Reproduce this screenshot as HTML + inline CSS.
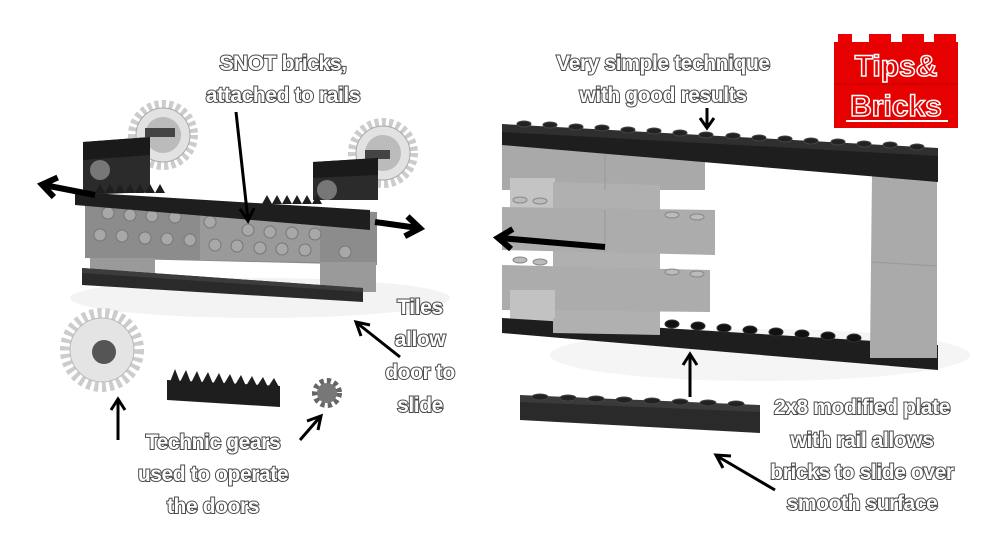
<!DOCTYPE html>
<html><head><meta charset="utf-8">
<style>
html,body{margin:0;padding:0;background:#fff;}
svg{display:block;}
.l{font-family:"Liberation Sans",sans-serif;font-size:21px;font-weight:bold;fill:#fff;stroke:#4a4a4a;stroke-width:2px;paint-order:stroke;text-anchor:middle;letter-spacing:-0.4px}
.a{stroke:#000;stroke-width:3;fill:none}
</style></head><body>
<svg width="1000" height="543" viewBox="0 0 1000 543" xmlns="http://www.w3.org/2000/svg">
<defs>
<marker id="H" markerWidth="30" markerHeight="30" refX="14" refY="12" orient="auto" markerUnits="userSpaceOnUse" viewBox="0 0 30 24"><path d="M2,2 L16,12 L2,22" fill="none" stroke="#000" stroke-width="6"/></marker>
</defs>
<rect width="1000" height="543" fill="#fff"/>
<ellipse cx="260" cy="298" rx="190" ry="20" fill="#f3f3f3"/>
<ellipse cx="760" cy="355" rx="210" ry="26" fill="#f5f5f5"/>

<!-- logo -->
<rect x="830" y="12" width="135" height="120" fill="#fff"/>
<rect x="838" y="34" width="14" height="9" fill="#e00"/><rect x="869" y="34" width="22" height="9" fill="#e00"/><rect x="902" y="34" width="22" height="9" fill="#e00"/><rect x="934" y="34" width="22" height="9" fill="#e00"/>
<rect x="834" y="42" width="124" height="86" fill="#e60000"/>
<line x1="834" y1="84" x2="958" y2="84" stroke="#b00" stroke-width="1"/>
<text x="896" y="76" style="font-family:'Liberation Sans',sans-serif;font-size:30px;font-weight:bold;fill:#e60000;stroke:#fff;stroke-width:1.5;text-anchor:middle">Tips&amp;</text>
<text x="896" y="116" style="font-family:'Liberation Sans',sans-serif;font-size:30px;font-weight:bold;fill:#e60000;stroke:#fff;stroke-width:1.5;text-anchor:middle">Bricks</text>
<line x1="846" y1="121" x2="948" y2="121" stroke="#fff" stroke-width="2"/>

<!-- LEFT ASSEMBLY -->
<circle cx="163" cy="135" r="30" fill="none" stroke="#ccc" stroke-width="10" stroke-dasharray="4 3"/>
<circle cx="163" cy="135" r="27" fill="#e2e2e2" stroke="#aaa"/>
<circle cx="163" cy="135" r="18" fill="#bbb"/>
<circle cx="383" cy="153" r="30" fill="none" stroke="#ccc" stroke-width="10" stroke-dasharray="4 3"/>
<circle cx="383" cy="153" r="27" fill="#e2e2e2" stroke="#aaa"/>
<circle cx="383" cy="153" r="18" fill="#bbb"/>
<rect x="145" y="128" width="30" height="9" fill="#444"/>
<rect x="365" y="150" width="25" height="9" fill="#444"/>
<polygon points="83,142 150,137 150,192 83,195" fill="#2b2b2b"/>
<polygon points="83,142 150,137 150,155 83,160" fill="#1a1a1a"/>
<polygon points="313,162 378,158 378,200 313,200" fill="#2b2b2b"/>
<polygon points="313,162 378,158 378,175 313,178" fill="#1a1a1a"/>
<polygon points="85,203 377,212 377,265 85,258" fill="#8c8c8c"/>
<polygon points="200,207 320,210 320,262 200,260" fill="#9a9a9a"/>
<g fill="#a8a8a8" stroke="#777" stroke-width="1">
<circle cx="108" cy="213" r="6"/><circle cx="130" cy="215" r="6"/><circle cx="152" cy="216" r="6"/><circle cx="175" cy="217" r="6"/>
<circle cx="100" cy="235" r="6"/><circle cx="122" cy="236" r="6"/><circle cx="145" cy="238" r="6"/><circle cx="167" cy="239" r="6"/><circle cx="190" cy="240" r="6"/>
<circle cx="210" cy="222" r="6"/><circle cx="248" cy="230" r="6"/><circle cx="270" cy="232" r="6"/><circle cx="292" cy="233" r="6"/><circle cx="315" cy="234" r="6"/>
<circle cx="215" cy="245" r="6"/><circle cx="237" cy="246" r="6"/><circle cx="260" cy="248" r="6"/><circle cx="282" cy="249" r="6"/><circle cx="305" cy="250" r="6"/><circle cx="345" cy="252" r="6"/>
</g>
<rect x="90" y="258" width="65" height="20" fill="#9a9a9a"/>
<rect x="320" y="262" width="56" height="30" fill="#9a9a9a"/>
<polygon points="75,192 370,210 370,230 75,205" fill="#1e1e1e"/>
<path d="M95,193 l5,-9 l5,9 l5,-9 l5,9 l5,-9 l5,9 l5,-9 l5,9 l5,-9 l5,9 l5,-9 l5,9 l5,-9 l5,9 Z" fill="#1e1e1e"/>
<path d="M262,204 l5,-9 l5,9 l5,-9 l5,9 l5,-9 l5,9 l5,-9 l5,9 l5,-9 l5,9 l5,-9 l5,9 Z" fill="#1e1e1e"/>
<circle cx="100" cy="170" r="10" fill="#777"/><circle cx="327" cy="190" r="10" fill="#777"/>
<polygon points="82,268 363,288 363,302 82,285" fill="#2a2a2a"/>
<polygon points="82,268 363,288 363,292 82,273" fill="#3c3c3c"/>
<line x1="95" y1="195" x2="44" y2="185" stroke="#000" stroke-width="6" marker-end="url(#H)"/>
<line x1="375" y1="222" x2="418" y2="228" stroke="#000" stroke-width="6" marker-end="url(#H)"/>

<!-- bottom left parts -->
<circle cx="102" cy="350" r="36" fill="none" stroke="#ccc" stroke-width="12" stroke-dasharray="4 3.5"/>
<circle cx="102" cy="350" r="32" fill="#e4e4e4" stroke="#bbb"/>
<circle cx="104" cy="352" r="12" fill="#555"/>
<polygon points="167,380 280,386 280,407 167,400" fill="#1e1e1e"/>
<path d="M170,382 L175,369 L180,382 L186,370 L191,383 L197,371 L202,383 L208,372 L213,384 L219,373 L224,384 L230,374 L235,385 L241,375 L246,386 L252,376 L257,386 L263,377 L268,387 L274,378 L279,387 Z" fill="#1e1e1e"/>
<circle cx="327" cy="393" r="12" fill="none" stroke="#666" stroke-width="6" stroke-dasharray="4 3"/>
<circle cx="327" cy="393" r="10" fill="#777"/>

<!-- RIGHT FRAME -->
<polygon points="502,145 705,148 705,190 502,190" fill="#a9a9a9"/>
<rect x="510" y="178" width="45" height="30" fill="#c4c4c4"/>
<polygon points="553,182 660,185 660,335 553,335" fill="#b0b0b0"/>
<polygon points="502,207 715,210 715,255 502,250" fill="#acacac"/>
<polygon points="502,265 710,270 710,312 502,310" fill="#acacac"/>
<rect x="510" y="290" width="45" height="35" fill="#c2c2c2"/>
<g fill="#bbb" stroke="#888"><ellipse cx="520" cy="200" rx="7" ry="3"/><ellipse cx="540" cy="201" rx="7" ry="3"/>
<ellipse cx="672" cy="215" rx="7" ry="3"/><ellipse cx="697" cy="217" rx="7" ry="3"/>
<ellipse cx="520" cy="260" rx="7" ry="3"/><ellipse cx="540" cy="262" rx="7" ry="3"/>
<ellipse cx="672" cy="272" rx="7" ry="3"/><ellipse cx="697" cy="274" rx="7" ry="3"/></g>
<line x1="605" y1="148" x2="605" y2="190" stroke="#999"/><line x1="605" y1="210" x2="605" y2="252" stroke="#999"/>
<polygon points="872,175 937,180 937,358 870,355" fill="#aaa"/>
<line x1="872" y1="262" x2="937" y2="266" stroke="#999"/>
<polygon points="502,128 938,152 938,182 502,145" fill="#1e1e1e"/>
<polygon points="502,124 938,148 938,156 502,132" fill="#2f2f2f"/>
<g fill="#222" stroke="#444">
<ellipse cx="524" cy="124" rx="7" ry="3"/><ellipse cx="550" cy="125" rx="7" ry="3"/><ellipse cx="576" cy="127" rx="7" ry="3"/><ellipse cx="602" cy="128" rx="7" ry="3"/><ellipse cx="628" cy="130" rx="7" ry="3"/><ellipse cx="654" cy="131" rx="7" ry="3"/><ellipse cx="680" cy="133" rx="7" ry="3"/><ellipse cx="706" cy="135" rx="7" ry="3"/><ellipse cx="733" cy="136" rx="7" ry="3"/><ellipse cx="759" cy="138" rx="7" ry="3"/><ellipse cx="785" cy="139" rx="7" ry="3"/><ellipse cx="811" cy="141" rx="7" ry="3"/><ellipse cx="838" cy="142" rx="7" ry="3"/><ellipse cx="864" cy="144" rx="7" ry="3"/><ellipse cx="890" cy="145" rx="7" ry="3"/><ellipse cx="917" cy="147" rx="7" ry="3"/>
</g>
<polygon points="502,318 938,345 938,370 502,333" fill="#1e1e1e"/>
<polygon points="553,318 660,320 660,335 553,333" fill="#b0b0b0"/>
<g fill="#111" stroke="#333">
<ellipse cx="672" cy="324" rx="7" ry="4"/><ellipse cx="698" cy="326" rx="7" ry="4"/><ellipse cx="724" cy="328" rx="7" ry="4"/><ellipse cx="750" cy="330" rx="7" ry="4"/><ellipse cx="776" cy="332" rx="7" ry="4"/><ellipse cx="802" cy="334" rx="7" ry="4"/><ellipse cx="828" cy="336" rx="7" ry="4"/><ellipse cx="854" cy="338" rx="7" ry="4"/>
</g>
<rect x="870" y="340" width="67" height="18" fill="#aaa"/>
<line x1="605" y1="247" x2="500" y2="238" stroke="#000" stroke-width="6" marker-end="url(#H)"/>

<polygon points="520,400 760,410 760,433 520,420" fill="#2a2a2a"/>
<polygon points="520,395 760,405 760,412 520,402" fill="#3a3a3a"/>
<g fill="#222" stroke="#444"><ellipse cx="540" cy="397" rx="8" ry="3"/><ellipse cx="568" cy="398" rx="8" ry="3"/><ellipse cx="596" cy="399" rx="8" ry="3"/><ellipse cx="624" cy="400" rx="8" ry="3"/><ellipse cx="652" cy="401" rx="8" ry="3"/><ellipse cx="680" cy="402" rx="8" ry="3"/><ellipse cx="708" cy="403" rx="8" ry="3"/><ellipse cx="736" cy="404" rx="8" ry="3"/></g>

<g class="a">
<line x1="236" y1="112" x2="248" y2="220"/><polyline points="240,209 248,221 254,208"/>
<line x1="707" y1="108" x2="707" y2="127"/><polyline points="700,118 707,128 714,118"/>
<line x1="400" y1="357" x2="357" y2="323"/><polyline points="361,336 356,322 370,325"/>
<line x1="118" y1="440" x2="118" y2="400"/><polyline points="111,410 118,399 125,410"/>
<line x1="300" y1="440" x2="320" y2="417"/><polyline points="318,430 321,416 307,421"/>
<line x1="690" y1="397" x2="690" y2="355"/><polyline points="683,365 690,354 697,365"/>
<line x1="775" y1="490" x2="717" y2="456"/><polyline points="723,468 716,455 731,456"/>
</g>

<text class="l" x="283" y="70">SNOT bricks,</text>
<text class="l" x="283" y="102">attached to rails</text>
<text class="l" x="663" y="70">Very simple technique</text>
<text class="l" x="663" y="102">with good results</text>
<text class="l" x="420" y="314">Tiles</text>
<text class="l" x="420" y="346">allow</text>
<text class="l" x="420" y="379">door to</text>
<text class="l" x="420" y="412">slide</text>
<text class="l" x="213" y="449">Technic gears</text>
<text class="l" x="213" y="481">used to operate</text>
<text class="l" x="213" y="513">the doors</text>
<text class="l" x="862" y="414">2x8 modified plate</text>
<text class="l" x="862" y="447">with rail allows</text>
<text class="l" x="862" y="479">bricks to slide over</text>
<text class="l" x="862" y="510">smooth surface</text>
</svg>
</body></html>
